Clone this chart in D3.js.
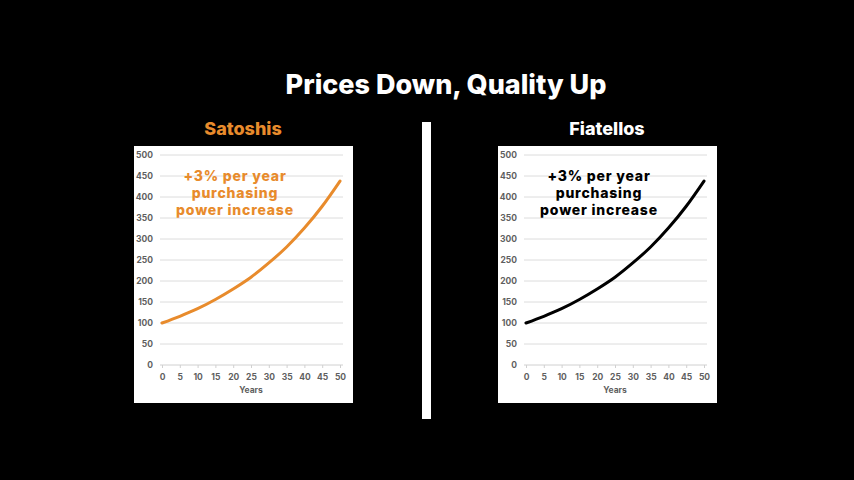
<!DOCTYPE html>
<head>
  <meta charset="utf-8">
  <script src="https://d3js.org/d3.v7.min.js"></script>
  <style>
    body { margin: 0; background: #000; }
    .tick text { font: bold 8.5px "Inter", sans-serif; fill: #5f5f5f; }
  </style>
</head>
<body>
<script>

// values (both panels show the same curve)
var years = [0, 5, 10, 15, 20, 25, 30, 35, 40, 45, 50];
var satoshis = [100, 116, 134, 156, 181, 209, 243, 281, 326, 378, 438];
var fiatellos = [100, 116, 134, 156, 181, 209, 243, 281, 326, 378, 438];
var yTicks = [0, 50, 100, 150, 200, 250, 300, 350, 400, 450, 500];
var panelNames = ["Satoshis", "Fiatellos"];
var noteLines = ["+3% per year", "purchasing", "power increase"];

var panels = [
  {name: panelNames[0], values: satoshis, color: "#e88b2c", left: 134},
  {name: panelNames[1], values: fiatellos, color: "#000", left: 498}
];

var W = 854, H = 480;
var svg = d3.select("body").append("svg")
    .attr("width", W)
    .attr("height", H);

svg.append("rect").attr("width", W).attr("height", H).attr("fill", "#000");

svg.append("text")
    .attr("x", 446)
    .attr("y", 94)
    .attr("text-anchor", "middle")
    .attr("fill", "#fff")
    .style("font", "800 27px Inter, sans-serif")
    .text("Prices Down, Quality Up");

// divider
svg.append("rect")
    .attr("x", 422).attr("y", 122)
    .attr("width", 9).attr("height", 297)
    .attr("fill", "#fff");

var x = d3.scaleLinear().domain([0, 50]).range([28, 206]);
var y = d3.scaleLinear().domain([0, 500]).range([365, 155]);

panels.forEach(function(p) {
  var g = svg.append("g").attr("transform", "translate(" + p.left + ",0)");

  g.append("text")
      .attr("x", 109)
      .attr("y", 135)
      .attr("text-anchor", "middle")
      .attr("fill", p.color === "#000" ? "#fff" : p.color)
      .style("font", "800 18px Inter, sans-serif")
      .text(p.name);

  g.append("rect")
      .attr("x", 0).attr("y", 146)
      .attr("width", 219).attr("height", 257)
      .attr("fill", "#fff");

  // gridlines
  g.selectAll(".grid")
      .data(yTicks.slice(1))
    .enter().append("line")
      .attr("x1", 26).attr("x2", 209)
      .attr("y1", function(d) { return y(d); })
      .attr("y2", function(d) { return y(d); })
      .attr("stroke", "#dcdcdc")
      .attr("stroke-width", 1);

  var yAxis = d3.axisLeft(y).tickValues(yTicks).tickSize(0).tickPadding(0);
  g.append("g")
      .attr("transform", "translate(19,0)")
      .call(yAxis)
      .call(function(a) { a.select(".domain").remove(); });

  var xAxis = d3.axisBottom(x).tickValues(years).tickSize(3).tickPadding(6);
  g.append("g")
      .attr("transform", "translate(0," + y(0) + ")")
      .call(xAxis)
      .call(function(a) {
        a.select(".domain").attr("d", "M26,0H209").attr("stroke", "#d0d0d0");
        a.selectAll(".tick line").attr("stroke", "#d0d0d0");
      });

  g.append("text")
      .attr("x", 117)
      .attr("y", 393)
      .attr("text-anchor", "middle")
      .attr("fill", "#5f5f5f")
      .style("font", "bold 8.5px Inter, sans-serif")
      .text("Years");

  var line = d3.line()
      .x(function(d, i) { return x(years[i]); })
      .y(function(d) { return y(d); })
      .curve(d3.curveMonotoneX);

  g.append("path")
      .datum(p.values)
      .attr("d", line)
      .attr("fill", "none")
      .attr("stroke", p.color)
      .attr("stroke-width", 3)
      .attr("stroke-linecap", "round");

  g.selectAll(".note")
      .data(noteLines)
    .enter().append("text")
      .attr("x", 101)
      .attr("y", function(d, i) { return 181 + i * 17; })
      .attr("text-anchor", "middle")
      .attr("fill", p.color)
      .style("font", "800 14px Inter, sans-serif")
      .style("letter-spacing", "0.8px")
      .text(function(d) { return d; });
});

</script>
</body>
